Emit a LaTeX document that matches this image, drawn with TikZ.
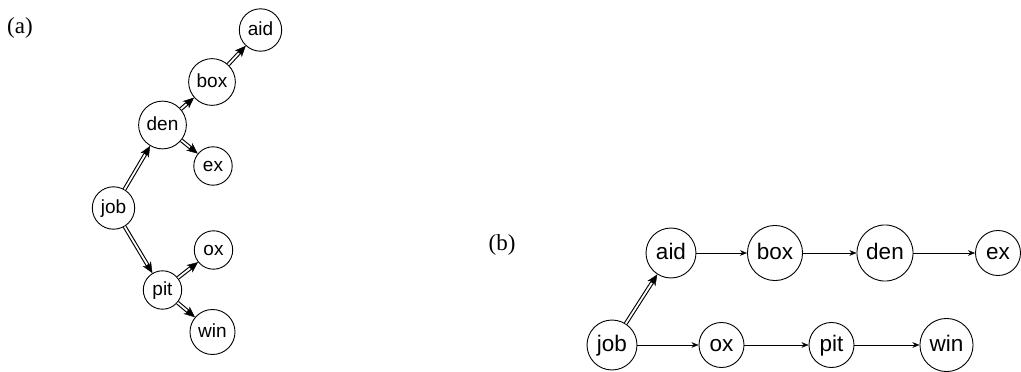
\documentclass[tikz,border=0pt]{standalone}
\usepackage{fontspec}
\setmainfont{Liberation Sans}
\newfontfamily\tagfont{Liberation Serif}
\usetikzlibrary{arrows.meta}

\begin{document}
\begin{tikzpicture}[
    x=1pt, y=-1pt,
    word/.style={circle, draw, line width=0.9pt},
    worda/.style={word, inner sep=4.3pt, text height=13.5pt, text depth=3.5pt, font=\fontsize{19}{21}\selectfont},
    wordb/.style={word, inner sep=5pt, text height=16pt, text depth=4pt, font=\fontsize{22.5}{24}\selectfont},
    dbl/.style={line width=4pt, -{Stealth[length=11pt, width=9.5pt, line width=0.4pt]},
        postaction={draw, white, line width=1.8pt, shorten >=10pt, -}},
    arrow/.style={line width=0.8pt, -{Stealth[length=7pt, width=5.5pt, line width=0.4pt]}},
    tag/.style={font=\tagfont\fontsize{23}{25}\selectfont}
]
\path[use as bounding box] (0,0) rectangle (1021,372);

% (a) tree
\node[tag] (taga) at (20,28) {(a)};
\node[worda] (aidA) at (260.5,30) {aid};
\node[worda] (boxA) at (212,82) {box};
\node[worda] (denA) at (162.5,125) {den};
\node[worda] (exA) at (213,166) {ex};
\node[worda] (jobA) at (113.5,208) {job};
\node[worda] (oxA) at (213.5,250) {ox};
\node[worda] (pitA) at (162.5,290) {pit};
\node[worda] (winA) at (212.5,332) {win};

\draw[dbl] (jobA) -- (denA);
\draw[dbl] (denA) -- (boxA);
\draw[dbl] (boxA) -- (aidA);
\draw[dbl] (denA) -- (exA);
\draw[dbl] (jobA) -- (pitA);
\draw[dbl] (pitA) -- (oxA);
\draw[dbl] (pitA) -- (winA);

% (b) chains
\node[tag] (tagb) at (502,245) {(b)};
\node[wordb] (aidB) at (671,253) {aid};
\node[wordb] (boxB) at (775,253) {box};
\node[wordb] (denB) at (885,253) {den};
\node[wordb] (exB) at (998,253) {ex};
\node[wordb] (jobB) at (612,345) {job};
\node[wordb] (oxB) at (721.5,345) {ox};
\node[wordb] (pitB) at (831.5,345) {pit};
\node[wordb] (winB) at (946.5,345) {win};

\draw[dbl] (jobB) -- (aidB);
\draw[arrow] (aidB) -- (boxB);
\draw[arrow] (boxB) -- (denB);
\draw[arrow] (denB) -- (exB);
\draw[arrow] (jobB) -- (oxB);
\draw[arrow] (oxB) -- (pitB);
\draw[arrow] (pitB) -- (winB);

\end{tikzpicture}
\end{document}
